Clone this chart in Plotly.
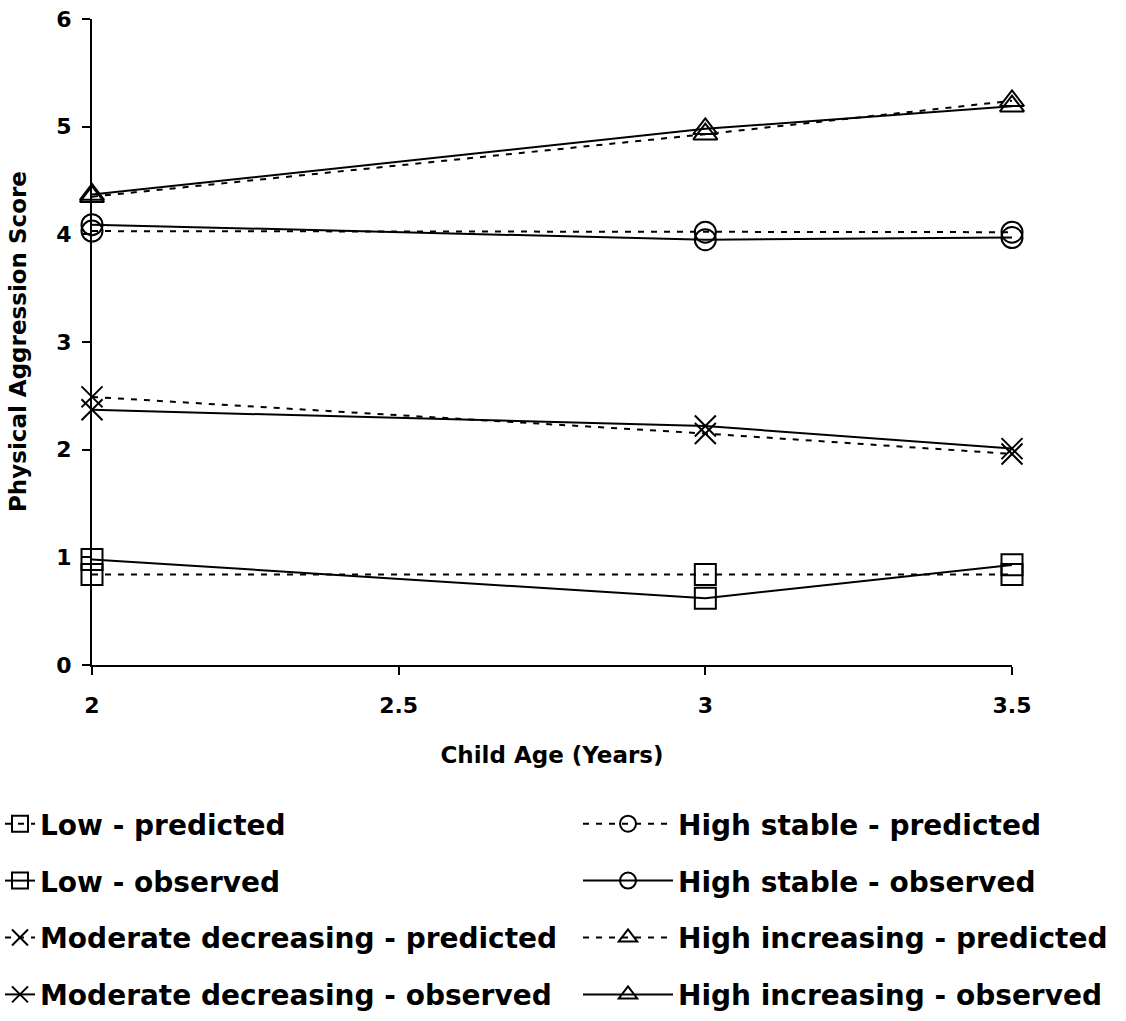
import plotly.graph_objects as go

# Child age at each assessment (years)
ages = [2, 3, 3.5]

# Physical aggression scores by trajectory group
low_pred = [0.84, 0.84, 0.84]
low_obs = [0.98, 0.62, 0.93]
mod_pred = [2.49, 2.15, 1.96]
mod_obs = [2.37, 2.22, 2.01]
hs_pred = [4.03, 4.02, 4.02]
hs_obs = [4.09, 3.95, 3.97]
hi_pred = [4.35, 4.93, 5.24]
hi_obs = [4.37, 4.98, 5.19]

x_ticks = [2, 2.5, 3, 3.5]
y_ticks = [0, 1, 2, 3, 4, 5, 6]

FONT = "DejaVu Sans, Liberation Sans, Arial, sans-serif"
DASH = "6px,7px"

series = [
    # name, values, marker symbol, dash, legend
    ("Low - predicted", low_pred, "square-open", DASH, "legend"),
    ("Low - observed", low_obs, "square-open", "solid", "legend"),
    ("Moderate decreasing - predicted", mod_pred, "x-thin-open", DASH, "legend"),
    ("Moderate decreasing - observed", mod_obs, "x-thin-open", "solid", "legend"),
    ("High stable - predicted", hs_pred, "circle-open", DASH, "legend2"),
    ("High stable - observed", hs_obs, "circle-open", "solid", "legend2"),
    ("High increasing - predicted", hi_pred, "triangle-up-open", DASH, "legend2"),
    ("High increasing - observed", hi_obs, "triangle-up-open", "solid", "legend2"),
]

fig = go.Figure()
for i, (name, vals, sym, dash, leg) in enumerate(series):
    fig.add_trace(go.Scatter(
        x=ages, y=vals, name=name, mode="lines+markers",
        line=dict(color="black", width=2, dash=dash),
        marker=dict(symbol=sym, size=21, color="black",
                    line=dict(color="black", width=2)),
        cliponaxis=False, legend=leg, legendgroup=f"g{i}",
    ))

legend_font = dict(family=FONT, size=28, color="black", weight="bold")
legend_common = dict(
    xref="container", yref="container", xanchor="left", yanchor="top",
    font=legend_font, tracegroupgap=17.5, bgcolor="rgba(0,0,0,0)",
    orientation="v",
)

axis_font = dict(family=FONT, size=22, color="black", weight="bold")
title_font = dict(family=FONT, size=23, color="black", weight="bold")

fig.update_layout(
    width=1126, height=1021,
    paper_bgcolor="white", plot_bgcolor="white",
    margin=dict(l=92, r=114, t=19, b=356, autoexpand=False),
    showlegend=True,
    legend=dict(x=0, y=1 - 799 / 1021, itemwidth=30, **legend_common),
    legend2=dict(x=578 / 1126, y=1 - 799 / 1021, itemwidth=90, **legend_common),
    xaxis=dict(
        range=[2, 3.5], tickvals=x_ticks, ticktext=[str(v) for v in x_ticks],
        showline=True, linecolor="black", linewidth=2, mirror=False,
        ticks="outside", ticklen=8, tickwidth=2, tickcolor="black",
        showgrid=False, zeroline=False, automargin=False,
        tickfont=axis_font, ticklabelstandoff=12,
        title=dict(text="Child Age (Years)", standoff=29, font=title_font),
    ),
    yaxis=dict(
        range=[0, 6], tickvals=y_ticks,
        showline=True, linecolor="black", linewidth=2,
        ticks="outside", ticklen=8, tickwidth=2, tickcolor="black",
        showgrid=False, zeroline=False, automargin=False,
        tickfont=axis_font, ticklabelstandoff=6,
    ),
    annotations=[dict(
        text="Physical Aggression Score", textangle=-90,
        xref="paper", yref="paper", x=(18 - 92) / 920, y=0.5,
        xanchor="center", yanchor="middle", showarrow=False,
        font=title_font,
    )],
)

fig.write_html("out.html")
